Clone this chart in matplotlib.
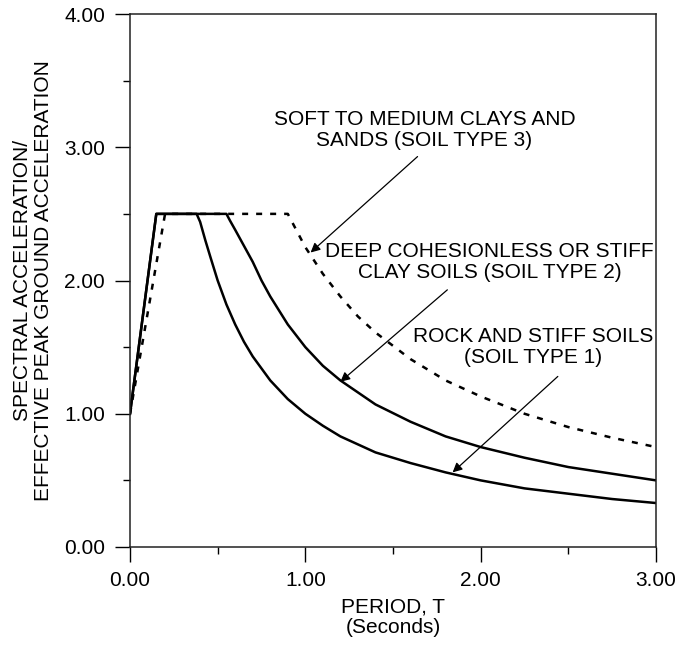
import matplotlib
matplotlib.use("Agg")
import matplotlib.pyplot as plt
from matplotlib.ticker import MultipleLocator

plt.rcParams['font.family'] = ['Liberation Sans', 'DejaVu Sans']

# values (period T in s, Sa / A)
t_soil1 = [0.0, 0.15, 0.38, 0.4, 0.43, 0.46, 0.5, 0.55, 0.6, 0.65, 0.7, 0.8, 0.9, 1.0,
           1.1, 1.2, 1.4, 1.6, 1.8, 2.0, 2.25, 2.5, 2.75, 3.0]
sa_soil1 = [1.0, 2.5, 2.5, 2.44, 2.3, 2.17, 2.0, 1.82, 1.67, 1.54, 1.43, 1.25, 1.11, 1.0,
            0.91, 0.83, 0.71, 0.63, 0.56, 0.5, 0.44, 0.4, 0.36, 0.33]

t_soil2 = [0.0, 0.15, 0.55, 0.57, 0.6, 0.65, 0.7, 0.75, 0.8, 0.9, 1.0, 1.1, 1.2, 1.4,
           1.6, 1.8, 2.0, 2.25, 2.5, 2.75, 3.0]
sa_soil2 = [1.0, 2.5, 2.5, 2.45, 2.38, 2.26, 2.14, 2.0, 1.88, 1.67, 1.5, 1.36, 1.25, 1.07,
            0.94, 0.83, 0.75, 0.67, 0.6, 0.55, 0.5]

t_soil3 = [0.0, 0.2, 0.9, 1.0, 1.1, 1.2, 1.3, 1.4, 1.6, 1.8, 2.0, 2.25, 2.5, 2.75, 3.0]
sa_soil3 = [1.0, 2.5, 2.5, 2.25, 2.05, 1.88, 1.73, 1.61, 1.41, 1.25, 1.13, 1.0, 0.9,
            0.82, 0.75]

x_ticks = [0.0, 1.0, 2.0, 3.0]
y_ticks = [0.0, 1.0, 2.0, 3.0, 4.0]

FS = 15

fig = plt.figure(figsize=(6.78, 6.46), dpi=100)
ax = fig.add_axes([130/678, 1 - 547/646, 526/678, 533/646])

ax.plot(t_soil1, sa_soil1, color='black', lw=1.8, solid_joinstyle='round')
ax.plot(t_soil2, sa_soil2, color='black', lw=1.8, solid_joinstyle='round')
ax.plot(t_soil3, sa_soil3, color='black', lw=1.8, linestyle=(0, (2.4, 3.2)))

ax.set_xlim(0, 3)
ax.set_ylim(0, 4)
ax.set_xticks(x_ticks)
ax.set_yticks(y_ticks)
ax.set_xticklabels(['%.2f' % v for v in x_ticks])
ax.set_yticklabels(['%.2f' % v for v in y_ticks])
ax.xaxis.set_minor_locator(MultipleLocator(0.5))
ax.yaxis.set_minor_locator(MultipleLocator(0.5))
ax.tick_params(which='major', direction='out', length=11, width=1, labelsize=FS, pad=6)
ax.tick_params(which='minor', direction='out', length=5, width=1)
ax.tick_params(axis='y', which='major', pad=7)
for s in ax.spines.values():
    s.set_linewidth(1.1)
    s.set_color('#222222')

ax.set_xlabel('PERIOD, T\n(Seconds)', fontsize=FS, labelpad=6, linespacing=1.1)
ax.set_ylabel('SPECTRAL ACCELERATION/\nEFFECTIVE PEAK GROUND ACCELERATION', fontsize=FS,
              labelpad=8, linespacing=1.1)

arrow = dict(arrowstyle='-|>', color='black', lw=0.9, mutation_scale=14, shrinkA=0, shrinkB=0)
ax.text(1.68, 3.13, 'SOFT TO MEDIUM CLAYS AND\nSANDS (SOIL TYPE 3)', ha='center', va='center',
        fontsize=FS, linespacing=1.1)
ax.annotate('', xy=(1.03, 2.21), xytext=(1.64, 2.93), arrowprops=arrow)
ax.text(2.05, 2.14, 'DEEP COHESIONLESS OR STIFF\nCLAY SOILS (SOIL TYPE 2)', ha='center', va='center',
        fontsize=FS, linespacing=1.1)
ax.annotate('', xy=(1.2, 1.24), xytext=(1.81, 1.93), arrowprops=arrow)
ax.text(2.3, 1.5, 'ROCK AND STIFF SOILS\n(SOIL TYPE 1)', ha='center', va='center',
        fontsize=FS, linespacing=1.1)
ax.annotate('', xy=(1.84, 0.56), xytext=(2.44, 1.28), arrowprops=arrow)

fig.savefig('out.png', dpi=100)
